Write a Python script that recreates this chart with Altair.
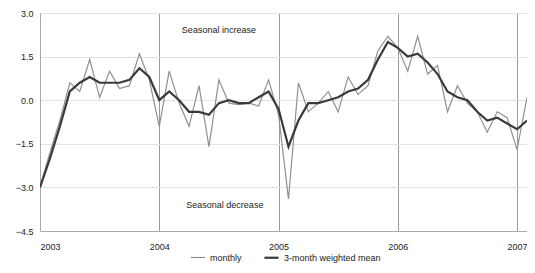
import altair as alt
import pandas as pd

# Monthly observations, Jan 2003 - Feb 2007
months = [f"{y}-{m:02d}" for y in range(2003, 2008) for m in range(1, 13)][:50]
monthly = [
    -3.0, -1.8, -0.7, 0.6, 0.3, 1.4, 0.1, 1.0, 0.4, 0.5, 1.6, 0.7,
    -0.9, 1.0, -0.1, -0.9, 0.5, -1.6, 0.7, -0.1, -0.15, -0.1, -0.2, 0.7,
    -0.5, -3.4, 0.6, -0.4, -0.1, 0.3, -0.4, 0.8, 0.2, 0.5, 1.7, 2.2,
    1.8, 1.0, 2.2, 0.9, 1.2, -0.4, 0.5, -0.1, -0.4, -1.1, -0.4, -0.6,
    -1.7, 0.1,
]
weighted = [
    -3.0, -2.0, -0.9, 0.3, 0.6, 0.8, 0.6, 0.6, 0.6, 0.7, 1.1, 0.8,
    0.0, 0.3, 0.0, -0.4, -0.4, -0.5, -0.1, 0.0, -0.1, -0.1, 0.1, 0.3,
    -0.3, -1.6, -0.7, -0.1, -0.1, 0.0, 0.1, 0.3, 0.4, 0.7, 1.4, 2.0,
    1.8, 1.5, 1.6, 1.3, 0.9, 0.3, 0.1, 0.0, -0.4, -0.7, -0.6, -0.8,
    -1.0, -0.7,
]
series_names = ["monthly", "3-month weighted mean"]
year_ticks = [0, 12, 24, 36, 48]
y_ticks = [3.0, 1.5, 0.0, -1.5, -3.0, -4.5]
notes = ["Seasonal increase", "Seasonal decrease"]
note_t = [18.0, 18.6]
note_v = [2.4, -3.6]

rows = []
for i, mth in enumerate(months):
    rows.append({"t": i, "month": mth, "series": series_names[0], "value": monthly[i]})
    rows.append({"t": i, "month": mth, "series": series_names[1], "value": weighted[i]})
df = pd.DataFrame(rows)
notes_df = pd.DataFrame({"t": note_t, "value": note_v, "text": notes})

FONT = "Liberation Sans"

x_enc = alt.X(
    "t:Q",
    scale=alt.Scale(domain=[0, 49], nice=False, zero=False),
    axis=alt.Axis(
        values=year_ticks, labelExpr="2003 + datum.value/12", title=None,
        grid=True, gridColor="#9a9a9a", gridWidth=1, ticks=False,
        domain=True, domainColor="#aaaaaa", labelPadding=11,
        labelFontSize=9, labelColor="#222222", labelFont=FONT,
    ),
)
y_enc = alt.Y(
    "value:Q",
    scale=alt.Scale(domain=[-4.5, 3.0], nice=False, zero=False),
    axis=alt.Axis(
        values=y_ticks, format=".1f", title=None, grid=True,
        gridColor="#e2e2e2", ticks=False, domainColor="#aaaaaa",
        labelPadding=7, labelFontSize=9, labelColor="#222222", labelFont=FONT,
    ),
)

lines = alt.Chart(df).mark_line(clip=True).encode(
    x=x_enc,
    y=y_enc,
    color=alt.Color(
        "series:N",
        scale=alt.Scale(domain=series_names, range=["#909090", "#3a3a3a"]),
        legend=alt.Legend(
            title=None, orient="none", direction="horizontal",
            legendX=150, legendY=236, symbolType="stroke",
            symbolSize=200, symbolStrokeWidth=1.8, columnPadding=18,
            labelFontSize=9, labelFont=FONT, labelColor="#222222",
            padding=0,
        ),
    ),
    strokeWidth=alt.StrokeWidth(
        "series:N",
        scale=alt.Scale(domain=series_names, range=[1.2, 2.2]),
        legend=None,
    ),
    order=alt.Order("t:Q"),
)

texts = alt.Chart(notes_df).mark_text(
    fontSize=9, font=FONT, color="#222222", align="center", baseline="middle"
).encode(x="t:Q", y="value:Q", text="text:N")

chart = (
    alt.layer(lines, texts)
    .properties(
        width=487, height=218,
        autosize=alt.AutoSizeParams(type="none"),
        padding={"left": 32, "top": 5, "right": 0, "bottom": 34},
    )
    .configure_view(stroke="#aaaaaa", strokeWidth=1)
    .configure(background="white")
)

chart.save("out.html", embed_options={"renderer": "svg", "actions": False})
